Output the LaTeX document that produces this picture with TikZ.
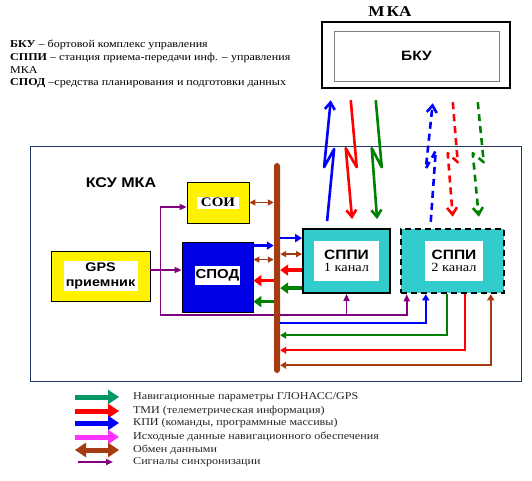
\documentclass[tikz,border=0pt]{standalone}
\usepackage{fontspec}
\setmainfont{Liberation Serif}[FakeStretch=1.15]
\setsansfont{Liberation Sans}[FakeStretch=1.15]
\usetikzlibrary{arrows.meta, positioning}

\definecolor{busbrown}{RGB}{166,58,16}
\definecolor{kpiblue}{RGB}{0,0,255}
\definecolor{tmired}{RGB}{255,0,0}
\definecolor{navgreen}{RGB}{0,128,0}
\definecolor{lgreen}{RGB}{0,153,102}
\definecolor{syncpurple}{RGB}{128,0,128}
\definecolor{initmag}{RGB}{255,51,255}
\definecolor{sppicyan}{RGB}{51,204,204}
\definecolor{frameblue}{RGB}{31,56,100}
\definecolor{spodblue}{RGB}{0,0,230}

\newcommand{\lblfont}{\sffamily\bfseries\fontsize{13.5}{15}\selectfont}

\begin{document}
\begin{tikzpicture}[x=1pt, y=-1pt,
  box/.style={draw, line width=0.8pt, inner sep=0pt},
  ybox/.style={box, fill=yellow},
  cbox/.style={box, fill=sppicyan, line width=1.8pt},
  inner/.style={fill=white, inner sep=0pt, align=center},
  kpi/.style={kpiblue, line width=2.5pt, -{Triangle[length=7pt,width=8pt]}},
  tmi/.style={tmired, line width=3.5pt, -{Triangle[length=8pt,width=11pt]}},
  nav/.style={navgreen, line width=3.5pt, -{Triangle[length=8pt,width=11pt]}},
  xchg/.style={busbrown, line width=1.6pt, {Triangle[length=6pt,width=6pt]}-{Triangle[length=6pt,width=6pt]}},
  sync/.style={syncpurple, line width=1.6pt, -{Triangle[length=7pt,width=6pt]}},
  rail/.style={line width=2pt, -{Triangle[length=6pt,width=7pt]}},
  rail2/.style={line width=2pt, {Triangle[length=6pt,width=7pt]}-{Triangle[length=6pt,width=7pt]}},
  bolt/.style={line width=2.6pt, line join=round, -{Straight Barb[length=7pt,width=10pt]}},
  boltd/.style={bolt, dash pattern=on 7pt off 5pt},
  lg/.style={line width=5pt, -{Triangle[length=11pt,width=14pt]}},
  lgtext/.style={anchor=west, inner sep=0pt, text=black!85, font=\fontsize{10.5}{12}\selectfont}
]
\useasboundingbox (0,0) rectangle (532,481);

% abbreviations
\node[anchor=north west, align=left, inner sep=0pt, font=\fontsize{10.5}{12.7}\selectfont] (defs) at (10,40)
  {\textbf{БКУ} – бортовой комплекс управления\\
   \textbf{СППИ} – станция приема-передачи инф. – управления\\
   МКА\\
   \textbf{СПОД} –средства планирования и подготовки данных};

% spacecraft
\node[font=\bfseries\fontsize{15}{15}\selectfont] (mkat) at (390,12) {М\kern2ptКА};
\node[box, line width=2.5pt, minimum width=188, minimum height=66] (mka) at (416,55) {};
\node[draw=gray, line width=0.8pt, minimum width=165, minimum height=50, font=\lblfont] (bku) at (416.5,56) {БКУ};

% control complex
\node[draw=frameblue, line width=1pt, minimum width=491, minimum height=234] (ksu) at (275.5,264) {};
\node[font=\sffamily\bfseries\fontsize{14}{14}\selectfont] (ksut) at (121,183) {КСУ МКА};

\node[ybox, minimum width=62, minimum height=41,
  label={[inner, font=\bfseries\fontsize{13}{13}\selectfont, minimum width=42, minimum height=12]center:СОИ}] (soi) at (218,202.5) {};
\node[box, fill=spodblue, minimum width=71, minimum height=70,
  label={[inner, font=\sffamily\bfseries\fontsize{13}{15}\selectfont, minimum width=45, minimum height=19, yshift=2pt]center:СПОД}] (spod) at (217.5,277) {};
\node[ybox, minimum width=99, minimum height=50,
  label={[inner, font=\sffamily\bfseries\fontsize{12.5}{15}\selectfont, minimum width=74, minimum height=30]center:GPS\\приемник}] (gps) at (100.5,276) {};

\node[cbox, minimum width=87, minimum height=64,
  label={[inner, minimum width=65, minimum height=40]center:{\lblfont СППИ}\\{\fontsize{12.5}{14}\selectfont 1 канал}}] (sppiA) at (346.5,261) {};
\node[cbox, dash pattern=on 6pt off 4pt, line width=2.5pt, minimum width=103, minimum height=64,
  label={[inner, minimum width=58, minimum height=40, xshift=1.5pt]center:{\lblfont СППИ}\\{\fontsize{12.5}{14}\selectfont 2 канал}}] (sppiB) at (452.5,261) {};

% synchronisation
\coordinate (gpsout) at ([yshift=6pt]gps.east);
\coordinate (jn) at ([xshift=10pt]gpsout);
\coordinate (syncrow) at ([yshift=-45pt]jn);
\draw[sync] (gpsout) -- (gpsout -| spod.west);
\draw[sync] (jn) |- ([yshift=-4.5pt]soi.west);
\draw[sync] (jn) -- (syncrow) -| ([xshift=7pt]sppiB.south west);
\draw[sync] (syncrow -| sppiA.south) -- (sppiA.south);

% data bus
\node[fill=busbrown, rounded corners=3pt, minimum width=6, minimum height=210, inner sep=0pt] (bus) at (277,268) {};

\draw[xchg] (soi.east) -- (soi.east -| bus.west);
\coordinate (sp1) at ([yshift=-4pt]spod.north east);
\coordinate (sp2) at ([yshift=-18pt]spod.north east);
\coordinate (sp3) at ([yshift=-39pt]spod.north east);
\coordinate (sp4) at ([yshift=-60pt]spod.north east);
\draw[kpi] (sp1) -- (sp1 -| bus.west);
\draw[xchg] (sp2) -- (sp2 -| bus.west);
\draw[tmi] (sp3 -| bus.west) -- (sp3);
\draw[nav] (sp4 -| bus.west) -- (sp4);

\coordinate (sa1) at ([yshift=-10pt]sppiA.north west);
\coordinate (sa2) at ([yshift=-26pt]sppiA.north west);
\coordinate (sa3) at ([yshift=-42pt]sppiA.north west);
\coordinate (sa4) at ([yshift=-60pt]sppiA.north west);
\draw[kpi] (sa1 -| bus.east) -- (sa1);
\draw[xchg] (sa2 -| bus.east) -- (sa2);
\draw[tmi] (sa3) -- (sa3 -| bus.east);
\draw[nav] (sa4) -- (sa4 -| bus.east);

% second channel via the bus
\coordinate (r1) at ([xshift=26pt,yshift=-29pt]sppiB.south west);
\coordinate (r2) at ([xshift=47pt,yshift=-41pt]sppiB.south west);
\coordinate (r3) at ([xshift=65pt,yshift=-56pt]sppiB.south west);
\coordinate (r4) at ([xshift=91pt,yshift=-71pt]sppiB.south west);
\draw[rail, kpiblue] (r1 -| bus.east) -- (r1) -- (r1 |- sppiB.south);
\draw[rail, navgreen] (r2 |- sppiB.south) -- (r2) -- (r2 -| bus.east);
\draw[rail, tmired] (r3 |- sppiB.south) -- (r3) -- (r3 -| bus.east);
\draw[rail2, busbrown] (r4 -| bus.east) -- (r4) -- (r4 |- sppiB.south);

% radio links
\draw[bolt, kpiblue] ([xshift=25pt,yshift=7pt]sppiA.north west) -- ++(7,-72) -- ++(-10,18)
  -- ([xshift=10pt,yshift=-11pt]mka.south west);
\draw[bolt, tmired] ([xshift=30pt,yshift=-11pt]mka.south west) -- ++(6,67) -- ++(-11,-19)
  -- ([xshift=50pt,yshift=9pt]sppiA.north west);
\draw[bolt, navgreen] ([xshift=55pt,yshift=-11pt]mka.south west) -- ++(6,67) -- ++(-10,-19)
  -- ([xshift=75pt,yshift=9pt]sppiA.north west);
\draw[boltd, kpiblue] ([xshift=31pt,yshift=6pt]sppiB.north west) -- ++(5,-71) -- ++(-10,18)
  -- ([xshift=112pt,yshift=-14pt]mka.south west);
\draw[boltd, tmired] ([xshift=132pt,yshift=-13pt]mka.south west) -- ++(5,60) -- ++(-10,-9)
  -- ([xshift=53pt,yshift=11pt]sppiB.north west);
\draw[boltd, navgreen] ([xshift=157pt,yshift=-13pt]mka.south west) -- ++(6,60) -- ++(-11,-9)
  -- ([xshift=79pt,yshift=11pt]sppiB.north west);

% legend
\node[lgtext] (lg1) at (133,397) {Навигационные параметры ГЛОНАСС/GPS};
\node[lgtext] (lg2) at (133,411) {ТМИ (телеметрическая информация)};
\node[lgtext] (lg3) at (133,423) {КПИ (команды, программные массивы)};
\node[lgtext] (lg4) at (133,437) {Исходные данные навигационного обеспечения};
\node[lgtext] (lg5) at (133,450) {Обмен данными};
\node[lgtext] (lg6) at (133,462) {Сигналы синхронизации};
\draw[lg, lgreen] ([xshift=-58pt]lg1.west) -- ([xshift=-14pt]lg1.west);
\draw[lg, tmired] ([xshift=-58pt]lg2.west) -- ([xshift=-14pt]lg2.west);
\draw[lg, kpiblue] ([xshift=-58pt]lg3.west) -- ([xshift=-14pt]lg3.west);
\draw[lg, initmag] ([xshift=-58pt]lg4.west) -- ([xshift=-14pt]lg4.west);
\draw[lg, busbrown, {Triangle[length=11pt,width=14pt]}-{Triangle[length=11pt,width=14pt]}] ([xshift=-58pt]lg5.west) -- ([xshift=-14pt]lg5.west);
\draw[sync, line width=2pt] ([xshift=-55pt]lg6.west) -- ([xshift=-20pt]lg6.west);
\end{tikzpicture}
\end{document}
